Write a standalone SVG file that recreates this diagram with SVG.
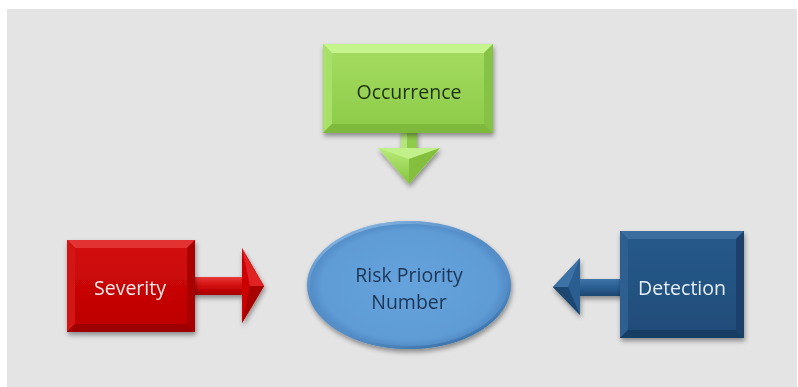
<svg xmlns="http://www.w3.org/2000/svg" width="798" height="387" viewBox="0 0 798 387">
  <defs>
    <style>
      .lbl { font-family: "Open Sans", "Noto Sans", "Liberation Sans", sans-serif; font-size: 19.5px; text-anchor: middle; dominant-baseline: central; }
      .shade { filter: url(#shadow); }
    </style>
    <filter id="shadow" x="-20%" y="-20%" width="140%" height="150%">
      <feGaussianBlur in="SourceAlpha" stdDeviation="2.5"/>
      <feOffset dx="1" dy="3" result="b"/>
      <feComponentTransfer><feFuncA type="linear" slope="0.4"/></feComponentTransfer>
      <feMerge><feMergeNode/><feMergeNode in="SourceGraphic"/></feMerge>
    </filter>
    <linearGradient id="gGreen" x1="0" y1="0" x2="0" y2="1">
      <stop offset="0" stop-color="#a6dc62"/>
      <stop offset="1" stop-color="#8ccb48"/>
    </linearGradient>
    <linearGradient id="gRed" x1="0" y1="0" x2="0" y2="1">
      <stop offset="0" stop-color="#d40c0c"/>
      <stop offset="1" stop-color="#bb0000"/>
    </linearGradient>
    <linearGradient id="gBlue" x1="0" y1="0" x2="0" y2="1">
      <stop offset="0" stop-color="#275a8c"/>
      <stop offset="1" stop-color="#1f4c78"/>
    </linearGradient>
    <radialGradient id="gEll" cx="0.5" cy="0.5" r="0.5">
      <stop offset="0" stop-color="#66a3dd"/>
      <stop offset="0.85" stop-color="#5f9cd6"/>
      <stop offset="1" stop-color="#5088c2"/>
    </radialGradient>
    <linearGradient id="gEllRim" x1="0" y1="0" x2="0.6" y2="1">
      <stop offset="0" stop-color="#a9cdf0"/>
      <stop offset="0.5" stop-color="#6aa4da" stop-opacity="0"/>
      <stop offset="1" stop-color="#3f78b0"/>
    </linearGradient>
    <linearGradient id="gGreenHead" x1="0" y1="0" x2="0" y2="1">
      <stop offset="0" stop-color="#b8ec78"/>
      <stop offset="1" stop-color="#86c440"/>
    </linearGradient>
    <linearGradient id="gRedStem" x1="0" y1="0" x2="0" y2="1">
      <stop offset="0" stop-color="#e83a3a"/>
      <stop offset="0.5" stop-color="#d00a0a"/>
      <stop offset="1" stop-color="#a80000"/>
    </linearGradient>
    <linearGradient id="gBlueStem" x1="0" y1="0" x2="0" y2="1">
      <stop offset="0" stop-color="#3f74a8"/>
      <stop offset="0.5" stop-color="#2a5e92"/>
      <stop offset="1" stop-color="#1c4670"/>
    </linearGradient>
  </defs>

  <!-- page backdrop -->
  <rect x="0" y="0" width="798" height="387" fill="#ffffff"/>
  <rect x="7" y="9" width="790" height="378" fill="#e5e4e4"/>

  <!-- block arrows between the factors and the RPN -->
  <g id="connectors">
    <!-- Occurrence down arrow -->
    <g class="shade">
      <rect x="401" y="130" width="16" height="20" fill="#90cc4c"/>
      <rect x="401" y="130" width="6" height="20" fill="#b4e67a"/>
      <polygon points="378,148 440,148 409,184" fill="url(#gGreenHead)"/>
      <polygon points="378,148 440,148 409,159" fill="#c2f08a"/>
      <polygon points="409,159 440,148 409,184" fill="#84c03e"/>
    </g>
    <!-- Severity right arrow -->
    <g class="shade">
      <rect x="192" y="277" width="52" height="18" fill="url(#gRedStem)"/>
      <polygon points="242,248 264,286 242,323" fill="#cc0606"/>
      <polygon points="242,248 264,286 250,286" fill="#e02222"/>
      <polygon points="242,323 264,286 250,286" fill="#a80000"/>
    </g>
    <!-- Detection left arrow -->
    <g class="shade">
      <rect x="578" y="279" width="45" height="17" fill="url(#gBlueStem)"/>
      <polygon points="580,258 553,287 580,315" fill="#2a5d90"/>
      <polygon points="580,258 553,287 568,287" fill="#3d72a6"/>
      <polygon points="580,315 553,287 568,287" fill="#1c466f"/>
    </g>
  </g>

  <!-- Occurrence -->
  <g id="occurrence" class="shade">
    <rect x="323" y="44" width="170" height="89" fill="url(#gGreen)"/>
    <polygon points="323,44 493,44 484,53 332,53" fill="#c6f58e"/>
    <polygon points="323,44 332,53 332,124 323,133" fill="#a9e068"/>
    <polygon points="493,44 493,133 484,124 484,53" fill="#86c244"/>
    <polygon points="323,133 332,124 484,124 493,133" fill="#7eb83c"/>
    <text class="lbl" x="409" y="91" fill="#1f3310">Occurrence</text>
  </g>

  <!-- Severity -->
  <g id="severity" class="shade">
    <rect x="67" y="240" width="128" height="92" fill="url(#gRed)"/>
    <polygon points="67,240 195,240 187,248 75,248" fill="#e23030"/>
    <polygon points="67,240 75,248 75,324 67,332" fill="#d21414"/>
    <polygon points="195,240 195,332 187,324 187,248" fill="#a80000"/>
    <polygon points="67,332 75,324 187,324 195,332" fill="#9e0000"/>
    <text class="lbl" x="130" y="287" fill="#f4eaea">Severity</text>
  </g>

  <!-- Risk Priority Number -->
  <g id="rpn" class="shade">
    <ellipse cx="409" cy="285" rx="102" ry="64" fill="url(#gEll)"/>
    <ellipse cx="409" cy="285" rx="100.5" ry="62.5" fill="none" stroke="url(#gEllRim)" stroke-width="3"/>
    <text class="lbl" x="409" y="274" fill="#1d3655">Risk Priority</text>
    <text class="lbl" x="409" y="301" fill="#1d3655">Number</text>
  </g>

  <!-- Detection -->
  <g id="detection" class="shade">
    <rect x="620" y="231" width="124" height="107" fill="url(#gBlue)"/>
    <polygon points="620,231 744,231 736,239 628,239" fill="#3a6e9e"/>
    <polygon points="620,231 628,239 628,330 620,338" fill="#2d5f90"/>
    <polygon points="744,231 744,338 736,330 736,239" fill="#1a416a"/>
    <polygon points="620,338 628,330 736,330 744,338" fill="#183c62"/>
    <text class="lbl" x="682" y="287" fill="#e6eef6">Detection</text>
  </g>
</svg>
